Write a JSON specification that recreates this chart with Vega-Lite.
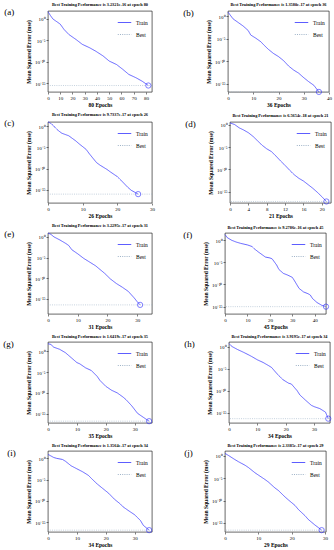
{
  "$schema": "https://vega.github.io/schema/vega-lite/v6.json",
  "padding": {"left": 3, "top": 2, "right": 0, "bottom": 0},
  "background": "white",
  "config": {
    "font": "Liberation Serif",
    "view": {"stroke": "black", "strokeWidth": 0.6},
    "axis": {"grid": false, "domain": false, "labelFontSize": 5, "labelColor": "black", "titleFontSize": 5.5, "titleFontWeight": "bold", "titleColor": "black", "tickColor": "black", "tickSize": 2, "tickWidth": 0.5, "labelPadding": 1, "labelOverlap": false, "labelFlush": false},
    "axisX": {"titlePadding": 2},
    "axisY": {"titlePadding": 3},
    "title": {"fontSize": 4.3, "fontWeight": "bold", "offset": 3, "color": "black"},
    "legend": {"orient": "top-right", "labelFontSize": 5.5, "labelColor": "black", "symbolType": "stroke", "symbolStrokeWidth": 1, "symbolSize": 180, "rowPadding": 1, "offset": 3, "padding": 1}
  },
  "datasets": {
    "a": [{"epoch":0,"mse":5e1},{"epoch":2,"mse":6.3},{"epoch":4,"mse":1},{"epoch":6,"mse":4e-1},{"epoch":8,"mse":1.6e-1},{"epoch":10,"mse":6.3e-2},{"epoch":13,"mse":4e-3},{"epoch":17,"mse":2.5e-4},{"epoch":23,"mse":1.6e-5},{"epoch":28,"mse":1.26e-6},{"epoch":34,"mse":2e-7},{"epoch":39,"mse":3.2e-8},{"epoch":45,"mse":2.5e-9},{"epoch":50,"mse":1.6e-10},{"epoch":56,"mse":2.5e-11},{"epoch":61,"mse":2e-12},{"epoch":66,"mse":1.26e-13},{"epoch":72,"mse":2e-14},{"epoch":77,"mse":3.2e-15},{"epoch":82,"mse":3.2321e-16}],
    "a_best": [{"epoch":82,"mse":3.2321e-16}],
    "b": [{"epoch":0,"mse":7.9},{"epoch":2,"mse":2.5e-1},{"epoch":4,"mse":4e-2},{"epoch":6,"mse":6.3e-3},{"epoch":8,"mse":6.3e-4},{"epoch":9,"mse":6.3e-5},{"epoch":11,"mse":1.26e-5},{"epoch":13,"mse":2e-6},{"epoch":14,"mse":5e-7},{"epoch":16,"mse":4e-8},{"epoch":18,"mse":5e-9},{"epoch":20,"mse":1e-9},{"epoch":22,"mse":1.26e-10},{"epoch":24,"mse":7.9e-12},{"epoch":26,"mse":1e-12},{"epoch":28,"mse":2e-13},{"epoch":30,"mse":2e-14},{"epoch":32,"mse":2.5e-15},{"epoch":34,"mse":4e-16},{"epoch":36,"mse":1.358e-17}],
    "b_best": [{"epoch":36,"mse":1.358e-17}],
    "c": [{"epoch":0,"mse":1e1},{"epoch":1,"mse":3.2},{"epoch":3,"mse":7.9e-2},{"epoch":4,"mse":2e-2},{"epoch":6,"mse":5e-3},{"epoch":8,"mse":3.2e-4},{"epoch":9,"mse":6.3e-5},{"epoch":11,"mse":3.2e-6},{"epoch":12,"mse":2.5e-7},{"epoch":14,"mse":2.5e-9},{"epoch":15,"mse":6.3e-10},{"epoch":17,"mse":6.3e-11},{"epoch":18,"mse":1.6e-11},{"epoch":20,"mse":1.26e-12},{"epoch":21,"mse":2e-13},{"epoch":23,"mse":4e-15},{"epoch":24,"mse":7.9e-16},{"epoch":26,"mse":9.7337e-17}],
    "c_best": [{"epoch":26,"mse":9.7337e-17}],
    "d": [{"epoch":0,"mse":2.5},{"epoch":1,"mse":1.1},{"epoch":2,"mse":2e-1},{"epoch":3,"mse":6.3e-2},{"epoch":4,"mse":1.6e-2},{"epoch":5,"mse":2.5e-3},{"epoch":6,"mse":2.5e-4},{"epoch":7,"mse":2.5e-5},{"epoch":8,"mse":4e-6},{"epoch":9,"mse":1e-6},{"epoch":10,"mse":1e-7},{"epoch":11,"mse":7.9e-9},{"epoch":12,"mse":7.9e-10},{"epoch":13,"mse":6.3e-11},{"epoch":14,"mse":6.3e-12},{"epoch":15,"mse":1e-12},{"epoch":16,"mse":2.5e-13},{"epoch":17,"mse":4e-14},{"epoch":18,"mse":6.3e-15},{"epoch":19,"mse":7.9e-16},{"epoch":20,"mse":7.9e-17},{"epoch":21,"mse":6.5654e-18}],
    "d_best": [{"epoch":21,"mse":6.5654e-18}],
    "e": [{"epoch":0,"mse":8.7},{"epoch":1,"mse":4},{"epoch":2,"mse":1},{"epoch":4,"mse":1.8e-1},{"epoch":6,"mse":2.5e-2},{"epoch":7,"mse":7.9e-3},{"epoch":8,"mse":7.9e-4},{"epoch":10,"mse":7.9e-5},{"epoch":12,"mse":6.3e-6},{"epoch":14,"mse":7.9e-7},{"epoch":16,"mse":1e-7},{"epoch":17,"mse":2.5e-8},{"epoch":19,"mse":1.6e-9},{"epoch":21,"mse":6.3e-11},{"epoch":23,"mse":5e-12},{"epoch":25,"mse":6.3e-13},{"epoch":27,"mse":6.3e-14},{"epoch":29,"mse":1.6e-15},{"epoch":30,"mse":2e-16},{"epoch":31,"mse":3.2295e-17}],
    "e_best": [{"epoch":31,"mse":3.2295e-17}],
    "f": [{"epoch":0,"mse":2e1},{"epoch":1,"mse":4},{"epoch":3,"mse":1},{"epoch":5,"mse":4e-1},{"epoch":7,"mse":2e-1},{"epoch":10,"mse":8.9e-2},{"epoch":12,"mse":4e-2},{"epoch":13,"mse":1.26e-2},{"epoch":15,"mse":2e-3},{"epoch":18,"mse":1.6e-4},{"epoch":20,"mse":1e-4},{"epoch":21,"mse":6.3e-5},{"epoch":23,"mse":2.5e-6},{"epoch":24,"mse":2.5e-7},{"epoch":26,"mse":3.2e-8},{"epoch":28,"mse":1.26e-8},{"epoch":30,"mse":4e-9},{"epoch":31,"mse":6.3e-10},{"epoch":33,"mse":1.26e-11},{"epoch":35,"mse":2e-12},{"epoch":37,"mse":7.9e-13},{"epoch":38,"mse":4e-13},{"epoch":39,"mse":6.3e-14},{"epoch":41,"mse":7.9e-15},{"epoch":43,"mse":2e-15},{"epoch":45,"mse":9.2786e-16}],
    "f_best": [{"epoch":45,"mse":9.2786e-16}],
    "g": [{"epoch":0,"mse":7e1},{"epoch":1,"mse":4.5e1},{"epoch":2,"mse":1e1},{"epoch":4,"mse":3.2},{"epoch":6,"mse":5e-1},{"epoch":8,"mse":3.2e-2},{"epoch":10,"mse":2e-3},{"epoch":11,"mse":1e-3},{"epoch":13,"mse":1.1e-4},{"epoch":15,"mse":2.5e-5},{"epoch":17,"mse":1e-6},{"epoch":18,"mse":1e-7},{"epoch":20,"mse":4e-9},{"epoch":22,"mse":4.5e-10},{"epoch":24,"mse":1e-10},{"epoch":26,"mse":1e-11},{"epoch":27,"mse":2.5e-12},{"epoch":29,"mse":7.9e-14},{"epoch":31,"mse":1.26e-15},{"epoch":33,"mse":1.4e-16},{"epoch":35,"mse":1.6419e-17}],
    "g_best": [{"epoch":35,"mse":1.6419e-17}],
    "h": [{"epoch":0,"mse":5.6},{"epoch":1,"mse":1.26},{"epoch":3,"mse":2.5e-1},{"epoch":5,"mse":6.3e-2},{"epoch":7,"mse":1.4e-2},{"epoch":8,"mse":6.3e-3},{"epoch":10,"mse":1.1e-3},{"epoch":12,"mse":2.8e-4},{"epoch":14,"mse":5e-5},{"epoch":15,"mse":2e-5},{"epoch":17,"mse":6.3e-7},{"epoch":19,"mse":3.2e-8},{"epoch":21,"mse":5e-9},{"epoch":22,"mse":3.2e-9},{"epoch":24,"mse":1e-10},{"epoch":25,"mse":1e-11},{"epoch":27,"mse":6.3e-13},{"epoch":29,"mse":4.5e-14},{"epoch":30,"mse":2.2e-14},{"epoch":32,"mse":7.9e-15},{"epoch":34,"mse":1.26e-15},{"epoch":35,"mse":3.9195e-17}],
    "h_best": [{"epoch":35,"mse":3.9195e-17}],
    "i": [{"epoch":0,"mse":8.7},{"epoch":2,"mse":1.6},{"epoch":3,"mse":1},{"epoch":5,"mse":5.6e-1},{"epoch":6,"mse":2.2e-1},{"epoch":8,"mse":1.8e-2},{"epoch":10,"mse":3.5e-3},{"epoch":12,"mse":7e-4},{"epoch":14,"mse":1e-4},{"epoch":15,"mse":2e-5},{"epoch":17,"mse":1e-6},{"epoch":19,"mse":7.9e-8},{"epoch":21,"mse":6.3e-9},{"epoch":23,"mse":2.5e-10},{"epoch":25,"mse":2e-11},{"epoch":26,"mse":4e-12},{"epoch":28,"mse":4.5e-13},{"epoch":30,"mse":5.6e-14},{"epoch":32,"mse":2.5e-15},{"epoch":33,"mse":1.8e-16},{"epoch":34,"mse":5e-17},{"epoch":35,"mse":1.3564e-17}],
    "i_best": [{"epoch":35,"mse":1.3564e-17}],
    "j": [{"epoch":0,"mse":3.5},{"epoch":1,"mse":1.26},{"epoch":3,"mse":1.4e-1},{"epoch":4,"mse":5e-2},{"epoch":6,"mse":7.9e-3},{"epoch":7,"mse":2.5e-3},{"epoch":9,"mse":1.6e-4},{"epoch":10,"mse":5e-5},{"epoch":12,"mse":5e-6},{"epoch":13,"mse":1.4e-6},{"epoch":15,"mse":6.3e-8},{"epoch":16,"mse":1.8e-8},{"epoch":18,"mse":6.3e-10},{"epoch":19,"mse":1.4e-10},{"epoch":21,"mse":7.9e-12},{"epoch":22,"mse":1e-12},{"epoch":24,"mse":4e-14},{"epoch":25,"mse":5.6e-15},{"epoch":27,"mse":3.2e-16},{"epoch":28,"mse":8.9e-17},{"epoch":29,"mse":2.3385e-17}],
    "j_best": [{"epoch":29,"mse":2.3385e-17}]
  },
  "spacing": 4,
  "resolve": {"scale": {"color": "independent", "strokeDash": "independent"}, "legend": {"color": "independent", "strokeDash": "independent"}},
  "vconcat": [
    {"spacing": 30, "resolve": {"scale": {"color": "independent", "strokeDash": "independent"}, "legend": {"color": "independent", "strokeDash": "independent"}},
     "hconcat": [
      {"title": {"text": "(a)", "orient": "left", "angle": 0, "anchor": "end", "baseline": "top", "fontSize": 9, "fontWeight": "normal", "offset": 2, "dy": 6},
       "resolve": {"scale": {"color": "independent", "strokeDash": "independent"}},
       "vconcat": [{"width": 104, "height": 81, "title": "Best Training Performance is 3.2321e-16 at epoch 80",
        "layer": [
          {"data": {"name": "a"}, "mark": {"type": "line", "strokeWidth": 0.8},
           "encoding": {
             "x": {"field": "epoch", "type": "quantitative", "scale": {"domain": [0, 85], "nice": false, "zero": false}, "axis": {"values": [0,10,20,30,40,50,60,70,80], "tickCount": 9, "labelOverlap": false, "title": "80 Epochs"}},
             "y": {"field": "mse", "type": "quantitative", "scale": {"type": "log", "domain": [1e-17, 72], "nice": false}, "axis": {"values": [1, 1e-5, 1e-10, 1e-15], "labelOverlap": false, "labelExpr": "datum.value > 0.5 ? '10⁰' : datum.value > 1e-7 ? '10⁻⁵' : datum.value > 1e-12 ? '10⁻¹⁰' : '10⁻¹⁵'", "title": "Mean Squared Error (mse)"}},
             "color": {"datum": "Train", "scale": {"domain": ["Train", "Best"], "range": ["#3d3dff", "#9fb3c8"]}, "legend": {"title": null}},
             "strokeDash": {"datum": "Train", "scale": {"domain": ["Train", "Best"], "range": [[1, 0], [1, 1.2]]}, "legend": {"title": null}}}},
          {"data": {"name": "a_best"}, "mark": {"type": "rule", "strokeWidth": 0.6}, "encoding": {"y": {"field": "mse", "type": "quantitative", "axis": {"values": [1, 1e-5, 1e-10, 1e-15], "labelOverlap": false, "labelExpr": "datum.value > 0.5 ? '10⁰' : datum.value > 1e-7 ? '10⁻⁵' : datum.value > 1e-12 ? '10⁻¹⁰' : '10⁻¹⁵'", "title": "Mean Squared Error (mse)"}}, "color": {"datum": "Best"}, "strokeDash": {"datum": "Best"}}},
          {"data": {"name": "a_best"}, "mark": {"type": "point", "shape": "circle", "filled": false, "size": 28, "strokeWidth": 0.8, "color": "#2020ff"}, "encoding": {
             "x": {"field": "epoch", "type": "quantitative", "axis": {"values": [0,10,20,30,40,50,60,70,80], "tickCount": 9, "labelOverlap": false, "title": "80 Epochs"}},
             "y": {"field": "mse", "type": "quantitative", "axis": {"values": [1, 1e-5, 1e-10, 1e-15], "labelOverlap": false, "labelExpr": "datum.value > 0.5 ? '10⁰' : datum.value > 1e-7 ? '10⁻⁵' : datum.value > 1e-12 ? '10⁻¹⁰' : '10⁻¹⁵'", "title": "Mean Squared Error (mse)"}}}}
        ]}]},
      {"title": {"text": "(b)", "orient": "left", "angle": 0, "anchor": "end", "baseline": "top", "fontSize": 9, "fontWeight": "normal", "offset": 2, "dy": 6},
       "resolve": {"scale": {"color": "independent", "strokeDash": "independent"}},
       "vconcat": [{"width": 101, "height": 81, "title": "Best Training Performance is 1.3580e-17 at epoch 36",
        "layer": [
          {"data": {"name": "b"}, "mark": {"type": "line", "strokeWidth": 0.8},
           "encoding": {
             "x": {"field": "epoch", "type": "quantitative", "scale": {"domain": [0, 40], "nice": false, "zero": false}, "axis": {"values": [0,5,10,15,20,25,30,35,40], "tickCount": 8, "labelOverlap": false, "title": "36 Epochs"}},
             "y": {"field": "mse", "type": "quantitative", "scale": {"type": "log", "domain": [1.3e-17, 14], "nice": false}, "axis": {"values": [1, 1e-5, 1e-10, 1e-15], "labelOverlap": false, "labelExpr": "datum.value > 0.5 ? '10⁰' : datum.value > 1e-7 ? '10⁻⁵' : datum.value > 1e-12 ? '10⁻¹⁰' : '10⁻¹⁵'", "title": "Mean Squared Error (mse)"}},
             "color": {"datum": "Train", "scale": {"domain": ["Train", "Best"], "range": ["#3d3dff", "#9fb3c8"]}, "legend": {"title": null}},
             "strokeDash": {"datum": "Train", "scale": {"domain": ["Train", "Best"], "range": [[1, 0], [1, 1.2]]}, "legend": {"title": null}}}},
          {"data": {"name": "b_best"}, "mark": {"type": "rule", "strokeWidth": 0.6}, "encoding": {"y": {"field": "mse", "type": "quantitative", "axis": {"values": [1, 1e-5, 1e-10, 1e-15], "labelOverlap": false, "labelExpr": "datum.value > 0.5 ? '10⁰' : datum.value > 1e-7 ? '10⁻⁵' : datum.value > 1e-12 ? '10⁻¹⁰' : '10⁻¹⁵'", "title": "Mean Squared Error (mse)"}}, "color": {"datum": "Best"}, "strokeDash": {"datum": "Best"}}},
          {"data": {"name": "b_best"}, "mark": {"type": "point", "shape": "circle", "filled": false, "size": 28, "strokeWidth": 0.8, "color": "#2020ff"}, "encoding": {
             "x": {"field": "epoch", "type": "quantitative", "axis": {"values": [0,5,10,15,20,25,30,35,40], "tickCount": 8, "labelOverlap": false, "title": "36 Epochs"}},
             "y": {"field": "mse", "type": "quantitative", "axis": {"values": [1, 1e-5, 1e-10, 1e-15], "labelOverlap": false, "labelExpr": "datum.value > 0.5 ? '10⁰' : datum.value > 1e-7 ? '10⁻⁵' : datum.value > 1e-12 ? '10⁻¹⁰' : '10⁻¹⁵'", "title": "Mean Squared Error (mse)"}}}}
        ]}]}
    ]},
    {"spacing": 30, "resolve": {"scale": {"color": "independent", "strokeDash": "independent"}, "legend": {"color": "independent", "strokeDash": "independent"}},
     "hconcat": [
      {"title": {"text": "(c)", "orient": "left", "angle": 0, "anchor": "end", "baseline": "top", "fontSize": 9, "fontWeight": "normal", "offset": 2, "dy": 6},
       "resolve": {"scale": {"color": "independent", "strokeDash": "independent"}},
       "vconcat": [{"width": 104, "height": 81, "title": "Best Training Performance is 9.7337e-17 at epoch 26",
        "layer": [
          {"data": {"name": "c"}, "mark": {"type": "line", "strokeWidth": 0.8},
           "encoding": {
             "x": {"field": "epoch", "type": "quantitative", "scale": {"domain": [0, 30], "nice": false, "zero": false}, "axis": {"values": [0,5,10,15,20,25,30], "tickCount": 6, "labelOverlap": false, "title": "26 Epochs"}},
             "y": {"field": "mse", "type": "quantitative", "scale": {"type": "log", "domain": [8e-19, 8.8], "nice": false}, "axis": {"values": [1, 1e-5, 1e-10, 1e-15], "labelOverlap": false, "labelExpr": "datum.value > 0.5 ? '10⁰' : datum.value > 1e-7 ? '10⁻⁵' : datum.value > 1e-12 ? '10⁻¹⁰' : '10⁻¹⁵'", "title": "Mean Squared Error (mse)"}},
             "color": {"datum": "Train", "scale": {"domain": ["Train", "Best"], "range": ["#3d3dff", "#9fb3c8"]}, "legend": {"title": null}},
             "strokeDash": {"datum": "Train", "scale": {"domain": ["Train", "Best"], "range": [[1, 0], [1, 1.2]]}, "legend": {"title": null}}}},
          {"data": {"name": "c_best"}, "mark": {"type": "rule", "strokeWidth": 0.6}, "encoding": {"y": {"field": "mse", "type": "quantitative", "axis": {"values": [1, 1e-5, 1e-10, 1e-15], "labelOverlap": false, "labelExpr": "datum.value > 0.5 ? '10⁰' : datum.value > 1e-7 ? '10⁻⁵' : datum.value > 1e-12 ? '10⁻¹⁰' : '10⁻¹⁵'", "title": "Mean Squared Error (mse)"}}, "color": {"datum": "Best"}, "strokeDash": {"datum": "Best"}}},
          {"data": {"name": "c_best"}, "mark": {"type": "point", "shape": "circle", "filled": false, "size": 28, "strokeWidth": 0.8, "color": "#2020ff"}, "encoding": {
             "x": {"field": "epoch", "type": "quantitative", "axis": {"values": [0,5,10,15,20,25,30], "tickCount": 6, "labelOverlap": false, "title": "26 Epochs"}},
             "y": {"field": "mse", "type": "quantitative", "axis": {"values": [1, 1e-5, 1e-10, 1e-15], "labelOverlap": false, "labelExpr": "datum.value > 0.5 ? '10⁰' : datum.value > 1e-7 ? '10⁻⁵' : datum.value > 1e-12 ? '10⁻¹⁰' : '10⁻¹⁵'", "title": "Mean Squared Error (mse)"}}}}
        ]}]},
      {"title": {"text": "(d)", "orient": "left", "angle": 0, "anchor": "end", "baseline": "top", "fontSize": 9, "fontWeight": "normal", "offset": 2, "dy": 6},
       "resolve": {"scale": {"color": "independent", "strokeDash": "independent"}},
       "vconcat": [{"width": 101, "height": 81, "title": "Best Training Performance is 6.5654e-18 at epoch 21",
        "layer": [
          {"data": {"name": "d"}, "mark": {"type": "line", "strokeWidth": 0.8},
           "encoding": {
             "x": {"field": "epoch", "type": "quantitative", "scale": {"domain": [0, 22], "nice": false, "zero": false}, "axis": {"values": [0,2,4,6,8,10,12,14,16,18,20,22], "tickCount": 11, "labelOverlap": false, "title": "21 Epochs"}},
             "y": {"field": "mse", "type": "quantitative", "scale": {"type": "log", "domain": [3e-18, 4], "nice": false}, "axis": {"values": [1, 1e-5, 1e-10, 1e-15], "labelOverlap": false, "labelExpr": "datum.value > 0.5 ? '10⁰' : datum.value > 1e-7 ? '10⁻⁵' : datum.value > 1e-12 ? '10⁻¹⁰' : '10⁻¹⁵'", "title": "Mean Squared Error (mse)"}},
             "color": {"datum": "Train", "scale": {"domain": ["Train", "Best"], "range": ["#3d3dff", "#9fb3c8"]}, "legend": {"title": null}},
             "strokeDash": {"datum": "Train", "scale": {"domain": ["Train", "Best"], "range": [[1, 0], [1, 1.2]]}, "legend": {"title": null}}}},
          {"data": {"name": "d_best"}, "mark": {"type": "rule", "strokeWidth": 0.6}, "encoding": {"y": {"field": "mse", "type": "quantitative", "axis": {"values": [1, 1e-5, 1e-10, 1e-15], "labelOverlap": false, "labelExpr": "datum.value > 0.5 ? '10⁰' : datum.value > 1e-7 ? '10⁻⁵' : datum.value > 1e-12 ? '10⁻¹⁰' : '10⁻¹⁵'", "title": "Mean Squared Error (mse)"}}, "color": {"datum": "Best"}, "strokeDash": {"datum": "Best"}}},
          {"data": {"name": "d_best"}, "mark": {"type": "point", "shape": "circle", "filled": false, "size": 28, "strokeWidth": 0.8, "color": "#2020ff"}, "encoding": {
             "x": {"field": "epoch", "type": "quantitative", "axis": {"values": [0,2,4,6,8,10,12,14,16,18,20,22], "tickCount": 11, "labelOverlap": false, "title": "21 Epochs"}},
             "y": {"field": "mse", "type": "quantitative", "axis": {"values": [1, 1e-5, 1e-10, 1e-15], "labelOverlap": false, "labelExpr": "datum.value > 0.5 ? '10⁰' : datum.value > 1e-7 ? '10⁻⁵' : datum.value > 1e-12 ? '10⁻¹⁰' : '10⁻¹⁵'", "title": "Mean Squared Error (mse)"}}}}
        ]}]}
    ]},
    {"spacing": 30, "resolve": {"scale": {"color": "independent", "strokeDash": "independent"}, "legend": {"color": "independent", "strokeDash": "independent"}},
     "hconcat": [
      {"title": {"text": "(e)", "orient": "left", "angle": 0, "anchor": "end", "baseline": "top", "fontSize": 9, "fontWeight": "normal", "offset": 2, "dy": 6},
       "resolve": {"scale": {"color": "independent", "strokeDash": "independent"}},
       "vconcat": [{"width": 104, "height": 81, "title": "Best Training Performance is 3.2295e-17 at epoch 31",
        "layer": [
          {"data": {"name": "e"}, "mark": {"type": "line", "strokeWidth": 0.8},
           "encoding": {
             "x": {"field": "epoch", "type": "quantitative", "scale": {"domain": [0, 35], "nice": false, "zero": false}, "axis": {"values": [0,5,10,15,20,25,30,35], "tickCount": 7, "labelOverlap": false, "title": "31 Epochs"}},
             "y": {"field": "mse", "type": "quantitative", "scale": {"type": "log", "domain": [2e-19, 8.8], "nice": false}, "axis": {"values": [1, 1e-5, 1e-10, 1e-15], "labelOverlap": false, "labelExpr": "datum.value > 0.5 ? '10⁰' : datum.value > 1e-7 ? '10⁻⁵' : datum.value > 1e-12 ? '10⁻¹⁰' : '10⁻¹⁵'", "title": "Mean Squared Error (mse)"}},
             "color": {"datum": "Train", "scale": {"domain": ["Train", "Best"], "range": ["#3d3dff", "#9fb3c8"]}, "legend": {"title": null}},
             "strokeDash": {"datum": "Train", "scale": {"domain": ["Train", "Best"], "range": [[1, 0], [1, 1.2]]}, "legend": {"title": null}}}},
          {"data": {"name": "e_best"}, "mark": {"type": "rule", "strokeWidth": 0.6}, "encoding": {"y": {"field": "mse", "type": "quantitative", "axis": {"values": [1, 1e-5, 1e-10, 1e-15], "labelOverlap": false, "labelExpr": "datum.value > 0.5 ? '10⁰' : datum.value > 1e-7 ? '10⁻⁵' : datum.value > 1e-12 ? '10⁻¹⁰' : '10⁻¹⁵'", "title": "Mean Squared Error (mse)"}}, "color": {"datum": "Best"}, "strokeDash": {"datum": "Best"}}},
          {"data": {"name": "e_best"}, "mark": {"type": "point", "shape": "circle", "filled": false, "size": 28, "strokeWidth": 0.8, "color": "#2020ff"}, "encoding": {
             "x": {"field": "epoch", "type": "quantitative", "axis": {"values": [0,5,10,15,20,25,30,35], "tickCount": 7, "labelOverlap": false, "title": "31 Epochs"}},
             "y": {"field": "mse", "type": "quantitative", "axis": {"values": [1, 1e-5, 1e-10, 1e-15], "labelOverlap": false, "labelExpr": "datum.value > 0.5 ? '10⁰' : datum.value > 1e-7 ? '10⁻⁵' : datum.value > 1e-12 ? '10⁻¹⁰' : '10⁻¹⁵'", "title": "Mean Squared Error (mse)"}}}}
        ]}]},
      {"title": {"text": "(f)", "orient": "left", "angle": 0, "anchor": "end", "baseline": "top", "fontSize": 9, "fontWeight": "normal", "offset": 2, "dy": 6},
       "resolve": {"scale": {"color": "independent", "strokeDash": "independent"}},
       "vconcat": [{"width": 101, "height": 81, "title": "Best Training Performance is 9.2786e-16 at epoch 45",
        "layer": [
          {"data": {"name": "f"}, "mark": {"type": "line", "strokeWidth": 0.8},
           "encoding": {
             "x": {"field": "epoch", "type": "quantitative", "scale": {"domain": [0, 45], "nice": false, "zero": false}, "axis": {"values": [0,5,10,15,20,25,30,35,40,45], "tickCount": 9, "labelOverlap": false, "title": "45 Epochs"}},
             "y": {"field": "mse", "type": "quantitative", "scale": {"type": "log", "domain": [2e-17, 45], "nice": false}, "axis": {"values": [1, 1e-5, 1e-10, 1e-15], "labelOverlap": false, "labelExpr": "datum.value > 0.5 ? '10⁰' : datum.value > 1e-7 ? '10⁻⁵' : datum.value > 1e-12 ? '10⁻¹⁰' : '10⁻¹⁵'", "title": "Mean Squared Error (mse)"}},
             "color": {"datum": "Train", "scale": {"domain": ["Train", "Best"], "range": ["#3d3dff", "#9fb3c8"]}, "legend": {"title": null}},
             "strokeDash": {"datum": "Train", "scale": {"domain": ["Train", "Best"], "range": [[1, 0], [1, 1.2]]}, "legend": {"title": null}}}},
          {"data": {"name": "f_best"}, "mark": {"type": "rule", "strokeWidth": 0.6}, "encoding": {"y": {"field": "mse", "type": "quantitative", "axis": {"values": [1, 1e-5, 1e-10, 1e-15], "labelOverlap": false, "labelExpr": "datum.value > 0.5 ? '10⁰' : datum.value > 1e-7 ? '10⁻⁵' : datum.value > 1e-12 ? '10⁻¹⁰' : '10⁻¹⁵'", "title": "Mean Squared Error (mse)"}}, "color": {"datum": "Best"}, "strokeDash": {"datum": "Best"}}},
          {"data": {"name": "f_best"}, "mark": {"type": "point", "shape": "circle", "filled": false, "size": 28, "strokeWidth": 0.8, "color": "#2020ff"}, "encoding": {
             "x": {"field": "epoch", "type": "quantitative", "axis": {"values": [0,5,10,15,20,25,30,35,40,45], "tickCount": 9, "labelOverlap": false, "title": "45 Epochs"}},
             "y": {"field": "mse", "type": "quantitative", "axis": {"values": [1, 1e-5, 1e-10, 1e-15], "labelOverlap": false, "labelExpr": "datum.value > 0.5 ? '10⁰' : datum.value > 1e-7 ? '10⁻⁵' : datum.value > 1e-12 ? '10⁻¹⁰' : '10⁻¹⁵'", "title": "Mean Squared Error (mse)"}}}}
        ]}]}
    ]},
    {"spacing": 30, "resolve": {"scale": {"color": "independent", "strokeDash": "independent"}, "legend": {"color": "independent", "strokeDash": "independent"}},
     "hconcat": [
      {"title": {"text": "(g)", "orient": "left", "angle": 0, "anchor": "end", "baseline": "top", "fontSize": 9, "fontWeight": "normal", "offset": 2, "dy": 6},
       "resolve": {"scale": {"color": "independent", "strokeDash": "independent"}},
       "vconcat": [{"width": 104, "height": 81, "title": "Best Training Performance is 1.6419e-17 at epoch 35",
        "layer": [
          {"data": {"name": "g"}, "mark": {"type": "line", "strokeWidth": 0.8},
           "encoding": {
             "x": {"field": "epoch", "type": "quantitative", "scale": {"domain": [0, 36], "nice": false, "zero": false}, "axis": {"values": [0,5,10,15,20,25,30,35], "tickCount": 7, "labelOverlap": false, "title": "35 Epochs"}},
             "y": {"field": "mse", "type": "quantitative", "scale": {"type": "log", "domain": [6e-18, 178], "nice": false}, "axis": {"values": [1, 1e-5, 1e-10, 1e-15], "labelOverlap": false, "labelExpr": "datum.value > 0.5 ? '10⁰' : datum.value > 1e-7 ? '10⁻⁵' : datum.value > 1e-12 ? '10⁻¹⁰' : '10⁻¹⁵'", "title": "Mean Squared Error (mse)"}},
             "color": {"datum": "Train", "scale": {"domain": ["Train", "Best"], "range": ["#3d3dff", "#9fb3c8"]}, "legend": {"title": null}},
             "strokeDash": {"datum": "Train", "scale": {"domain": ["Train", "Best"], "range": [[1, 0], [1, 1.2]]}, "legend": {"title": null}}}},
          {"data": {"name": "g_best"}, "mark": {"type": "rule", "strokeWidth": 0.6}, "encoding": {"y": {"field": "mse", "type": "quantitative", "axis": {"values": [1, 1e-5, 1e-10, 1e-15], "labelOverlap": false, "labelExpr": "datum.value > 0.5 ? '10⁰' : datum.value > 1e-7 ? '10⁻⁵' : datum.value > 1e-12 ? '10⁻¹⁰' : '10⁻¹⁵'", "title": "Mean Squared Error (mse)"}}, "color": {"datum": "Best"}, "strokeDash": {"datum": "Best"}}},
          {"data": {"name": "g_best"}, "mark": {"type": "point", "shape": "circle", "filled": false, "size": 28, "strokeWidth": 0.8, "color": "#2020ff"}, "encoding": {
             "x": {"field": "epoch", "type": "quantitative", "axis": {"values": [0,5,10,15,20,25,30,35], "tickCount": 7, "labelOverlap": false, "title": "35 Epochs"}},
             "y": {"field": "mse", "type": "quantitative", "axis": {"values": [1, 1e-5, 1e-10, 1e-15], "labelOverlap": false, "labelExpr": "datum.value > 0.5 ? '10⁰' : datum.value > 1e-7 ? '10⁻⁵' : datum.value > 1e-12 ? '10⁻¹⁰' : '10⁻¹⁵'", "title": "Mean Squared Error (mse)"}}}}
        ]}]},
      {"title": {"text": "(h)", "orient": "left", "angle": 0, "anchor": "end", "baseline": "top", "fontSize": 9, "fontWeight": "normal", "offset": 2, "dy": 6},
       "resolve": {"scale": {"color": "independent", "strokeDash": "independent"}},
       "vconcat": [{"width": 101, "height": 81, "title": "Best Training Performance is 3.9195e-17 at epoch 34",
        "layer": [
          {"data": {"name": "h"}, "mark": {"type": "line", "strokeWidth": 0.8},
           "encoding": {
             "x": {"field": "epoch", "type": "quantitative", "scale": {"domain": [0, 35.6], "nice": false, "zero": false}, "axis": {"values": [0,5,10,15,20,25,30,35], "tickCount": 7, "labelOverlap": false, "title": "34 Epochs"}},
             "y": {"field": "mse", "type": "quantitative", "scale": {"type": "log", "domain": [4e-18, 13], "nice": false}, "axis": {"values": [1, 1e-5, 1e-10, 1e-15], "labelOverlap": false, "labelExpr": "datum.value > 0.5 ? '10⁰' : datum.value > 1e-7 ? '10⁻⁵' : datum.value > 1e-12 ? '10⁻¹⁰' : '10⁻¹⁵'", "title": "Mean Squared Error (mse)"}},
             "color": {"datum": "Train", "scale": {"domain": ["Train", "Best"], "range": ["#3d3dff", "#9fb3c8"]}, "legend": {"title": null}},
             "strokeDash": {"datum": "Train", "scale": {"domain": ["Train", "Best"], "range": [[1, 0], [1, 1.2]]}, "legend": {"title": null}}}},
          {"data": {"name": "h_best"}, "mark": {"type": "rule", "strokeWidth": 0.6}, "encoding": {"y": {"field": "mse", "type": "quantitative", "axis": {"values": [1, 1e-5, 1e-10, 1e-15], "labelOverlap": false, "labelExpr": "datum.value > 0.5 ? '10⁰' : datum.value > 1e-7 ? '10⁻⁵' : datum.value > 1e-12 ? '10⁻¹⁰' : '10⁻¹⁵'", "title": "Mean Squared Error (mse)"}}, "color": {"datum": "Best"}, "strokeDash": {"datum": "Best"}}},
          {"data": {"name": "h_best"}, "mark": {"type": "point", "shape": "circle", "filled": false, "size": 28, "strokeWidth": 0.8, "color": "#2020ff"}, "encoding": {
             "x": {"field": "epoch", "type": "quantitative", "axis": {"values": [0,5,10,15,20,25,30,35], "tickCount": 7, "labelOverlap": false, "title": "34 Epochs"}},
             "y": {"field": "mse", "type": "quantitative", "axis": {"values": [1, 1e-5, 1e-10, 1e-15], "labelOverlap": false, "labelExpr": "datum.value > 0.5 ? '10⁰' : datum.value > 1e-7 ? '10⁻⁵' : datum.value > 1e-12 ? '10⁻¹⁰' : '10⁻¹⁵'", "title": "Mean Squared Error (mse)"}}}}
        ]}]}
    ]},
    {"spacing": 30, "resolve": {"scale": {"color": "independent", "strokeDash": "independent"}, "legend": {"color": "independent", "strokeDash": "independent"}},
     "hconcat": [
      {"title": {"text": "(i)", "orient": "left", "angle": 0, "anchor": "end", "baseline": "top", "fontSize": 9, "fontWeight": "normal", "offset": 2, "dy": 6},
       "resolve": {"scale": {"color": "independent", "strokeDash": "independent"}},
       "vconcat": [{"width": 104, "height": 81, "title": "Best Training Performance is 1.3564e-17 at epoch 34",
        "layer": [
          {"data": {"name": "i"}, "mark": {"type": "line", "strokeWidth": 0.8},
           "encoding": {
             "x": {"field": "epoch", "type": "quantitative", "scale": {"domain": [0, 36], "nice": false, "zero": false}, "axis": {"values": [0,5,10,15,20,25,30,35], "tickCount": 7, "labelOverlap": false, "title": "34 Epochs"}},
             "y": {"field": "mse", "type": "quantitative", "scale": {"type": "log", "domain": [5e-18, 54], "nice": false}, "axis": {"values": [1, 1e-5, 1e-10, 1e-15], "labelOverlap": false, "labelExpr": "datum.value > 0.5 ? '10⁰' : datum.value > 1e-7 ? '10⁻⁵' : datum.value > 1e-12 ? '10⁻¹⁰' : '10⁻¹⁵'", "title": "Mean Squared Error (mse)"}},
             "color": {"datum": "Train", "scale": {"domain": ["Train", "Best"], "range": ["#3d3dff", "#9fb3c8"]}, "legend": {"title": null}},
             "strokeDash": {"datum": "Train", "scale": {"domain": ["Train", "Best"], "range": [[1, 0], [1, 1.2]]}, "legend": {"title": null}}}},
          {"data": {"name": "i_best"}, "mark": {"type": "rule", "strokeWidth": 0.6}, "encoding": {"y": {"field": "mse", "type": "quantitative", "axis": {"values": [1, 1e-5, 1e-10, 1e-15], "labelOverlap": false, "labelExpr": "datum.value > 0.5 ? '10⁰' : datum.value > 1e-7 ? '10⁻⁵' : datum.value > 1e-12 ? '10⁻¹⁰' : '10⁻¹⁵'", "title": "Mean Squared Error (mse)"}}, "color": {"datum": "Best"}, "strokeDash": {"datum": "Best"}}},
          {"data": {"name": "i_best"}, "mark": {"type": "point", "shape": "circle", "filled": false, "size": 28, "strokeWidth": 0.8, "color": "#2020ff"}, "encoding": {
             "x": {"field": "epoch", "type": "quantitative", "axis": {"values": [0,5,10,15,20,25,30,35], "tickCount": 7, "labelOverlap": false, "title": "34 Epochs"}},
             "y": {"field": "mse", "type": "quantitative", "axis": {"values": [1, 1e-5, 1e-10, 1e-15], "labelOverlap": false, "labelExpr": "datum.value > 0.5 ? '10⁰' : datum.value > 1e-7 ? '10⁻⁵' : datum.value > 1e-12 ? '10⁻¹⁰' : '10⁻¹⁵'", "title": "Mean Squared Error (mse)"}}}}
        ]}]},
      {"title": {"text": "(j)", "orient": "left", "angle": 0, "anchor": "end", "baseline": "top", "fontSize": 9, "fontWeight": "normal", "offset": 2, "dy": 6},
       "resolve": {"scale": {"color": "independent", "strokeDash": "independent"}},
       "vconcat": [{"width": 101, "height": 81, "title": "Best Training Performance is 2.3385e-17 at epoch 29",
        "layer": [
          {"data": {"name": "j"}, "mark": {"type": "line", "strokeWidth": 0.8},
           "encoding": {
             "x": {"field": "epoch", "type": "quantitative", "scale": {"domain": [0, 30.3], "nice": false, "zero": false}, "axis": {"values": [0,5,10,15,20,25,30], "tickCount": 6, "labelOverlap": false, "title": "29 Epochs"}},
             "y": {"field": "mse", "type": "quantitative", "scale": {"type": "log", "domain": [9e-18, 12], "nice": false}, "axis": {"values": [1, 1e-5, 1e-10, 1e-15], "labelOverlap": false, "labelExpr": "datum.value > 0.5 ? '10⁰' : datum.value > 1e-7 ? '10⁻⁵' : datum.value > 1e-12 ? '10⁻¹⁰' : '10⁻¹⁵'", "title": "Mean Squared Error (mse)"}},
             "color": {"datum": "Train", "scale": {"domain": ["Train", "Best"], "range": ["#3d3dff", "#9fb3c8"]}, "legend": {"title": null}},
             "strokeDash": {"datum": "Train", "scale": {"domain": ["Train", "Best"], "range": [[1, 0], [1, 1.2]]}, "legend": {"title": null}}}},
          {"data": {"name": "j_best"}, "mark": {"type": "rule", "strokeWidth": 0.6}, "encoding": {"y": {"field": "mse", "type": "quantitative", "axis": {"values": [1, 1e-5, 1e-10, 1e-15], "labelOverlap": false, "labelExpr": "datum.value > 0.5 ? '10⁰' : datum.value > 1e-7 ? '10⁻⁵' : datum.value > 1e-12 ? '10⁻¹⁰' : '10⁻¹⁵'", "title": "Mean Squared Error (mse)"}}, "color": {"datum": "Best"}, "strokeDash": {"datum": "Best"}}},
          {"data": {"name": "j_best"}, "mark": {"type": "point", "shape": "circle", "filled": false, "size": 28, "strokeWidth": 0.8, "color": "#2020ff"}, "encoding": {
             "x": {"field": "epoch", "type": "quantitative", "axis": {"values": [0,5,10,15,20,25,30], "tickCount": 6, "labelOverlap": false, "title": "29 Epochs"}},
             "y": {"field": "mse", "type": "quantitative", "axis": {"values": [1, 1e-5, 1e-10, 1e-15], "labelOverlap": false, "labelExpr": "datum.value > 0.5 ? '10⁰' : datum.value > 1e-7 ? '10⁻⁵' : datum.value > 1e-12 ? '10⁻¹⁰' : '10⁻¹⁵'", "title": "Mean Squared Error (mse)"}}}}
        ]}]}
    ]}
  ]
}
